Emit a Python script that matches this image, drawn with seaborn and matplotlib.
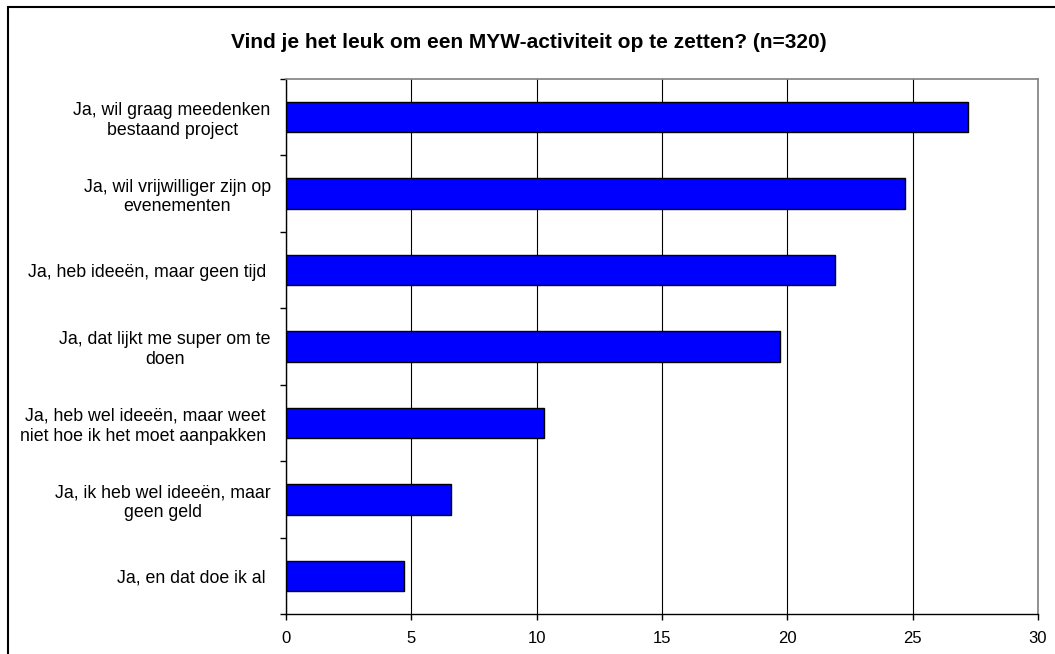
import matplotlib
matplotlib.use("Agg")
import matplotlib.pyplot as plt
from matplotlib.patches import Rectangle
from matplotlib.ticker import FixedLocator
import seaborn as sns
import pandas as pd

categories = [
    "Ja, wil graag meedenken\nbestaand project",
    "Ja, wil vrijwilliger zijn op\nevenementen",
    "Ja, heb ideeën, maar geen tijd ",
    "Ja, dat lijkt me super om te\ndoen",
    "Ja, heb wel ideeën, maar weet\nniet hoe ik het moet aanpakken ",
    "Ja, ik heb wel ideeën, maar\ngeen geld",
    "Ja, en dat doe ik al ",
]
values = [27.2, 24.7, 21.9, 19.7, 10.3, 6.6, 4.7]
x_ticks = [0, 5, 10, 15, 20, 25, 30]
title = "Vind je het leuk om een MYW-activiteit op te zetten? (n=320)"

sns.set_style("white")
plt.rcParams["font.family"] = ["Liberation Sans", "DejaVu Sans"]
plt.rcParams["text.color"] = "black"
plt.rcParams["xtick.color"] = "black"
plt.rcParams["ytick.color"] = "black"
plt.rcParams["xtick.labelcolor"] = "black"
plt.rcParams["ytick.labelcolor"] = "black"

W, H = 1055, 654
fig = plt.figure(figsize=(W / 100, H / 100), dpi=100)
ax = fig.add_axes([286 / W, 1 - 614 / H, (1038 - 286) / W, (614 - 79) / H])

df = pd.DataFrame({"cat": categories, "val": values})
sns.barplot(data=df, x="val", y="cat", orient="h", color="#0000FF",
            saturation=1, edgecolor="black", linewidth=1.0, width=0.4, ax=ax)

ax.set_xlim(0, 30)
ax.set_ylim(len(categories) - 0.5, -0.5)
ax.xaxis.set_major_locator(FixedLocator(x_ticks))
ax.set_xticklabels([str(t) for t in x_ticks])
ax.xaxis.grid(True, color="black", linewidth=0.8)
ax.yaxis.grid(False)
ax.set_axisbelow(True)
ax.set_xlabel("")
ax.set_ylabel("")

for s in ["left", "bottom"]:
    ax.spines[s].set_color("black")
    ax.spines[s].set_linewidth(1.0)
    ax.spines[s].set_visible(True)
for s in ["top", "right"]:
    ax.spines[s].set_color("#808080")
    ax.spines[s].set_linewidth(1.2)
    ax.spines[s].set_visible(True)

ax.tick_params(axis="x", which="major", direction="out", length=4, width=1,
               color="black", labelcolor="black", labelsize=12, pad=8, bottom=True)
ax.yaxis.set_minor_locator(FixedLocator([i - 0.5 for i in range(len(categories) + 1)]))
ax.tick_params(axis="y", which="minor", direction="out", length=4, width=1,
               color="black", left=True)
ax.tick_params(axis="y", which="major", length=0, labelsize=12.8, pad=11,
               labelcolor="black")
for lbl in ax.get_yticklabels():
    lbl.set_multialignment("center")

fig.text(0.501, 1 - 42 / H, title, ha="center", va="center",
         fontsize=15, fontweight="bold", color="black")

fig.add_artist(Rectangle((8 / W, -0.2), 1.5, (H - 7) / H + 0.2,
                         transform=fig.transFigure, fill=False,
                         edgecolor="black", linewidth=1.5))

fig.savefig("out.png", dpi=100, facecolor="white")
